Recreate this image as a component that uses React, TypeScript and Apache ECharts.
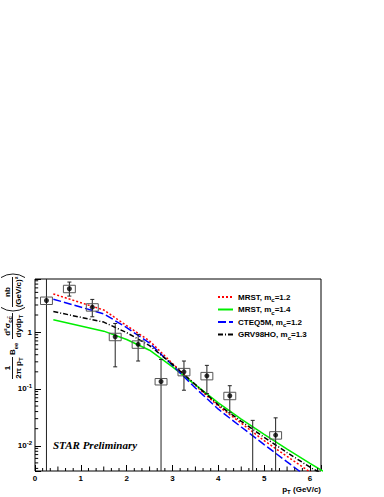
import React, { useEffect, useRef } from 'react';
import * as echarts from 'echarts';

// ---- data points (STAR preliminary) ----
const ptPoints = [0.25, 0.75, 1.25, 1.75, 2.25, 2.75, 3.25, 3.75, 4.25, 4.75, 5.25];
const yieldPoints = [3.6, 5.8, 2.75, 0.83, 0.61, 0.135, 0.2, 0.17, 0.076, 0.001, 0.0154];
const statLow = [0, 4.3, 1.86, 0.245, 0.31, 0, 0.095, 0.083, 0.038, 0, 0];
const statHigh = [9.5, 7.6, 3.76, 1.42, 0.91, 0.33, 0.31, 0.26, 0.114, 0.028, 0.031];
const sysRel = [0.15, 0.15, 0.15, 0.15, 0.15, 0.13, 0.15, 0.15, 0.15, 0.15, 0.15];

// ---- theory curves ----
const theoryPt = [0.4, 1.5, 2.0, 2.5, 3.0, 3.5, 4.0, 4.5, 5.0, 5.5, 6.0, 6.5];
const mrst12 = [4.7, 2.45, 1.3, 0.7, 0.28, 0.115, 0.05, 0.025, 0.0123, 0.0065, 0.00347, 0.002];
const mrst14 = [1.65, 1.04, 0.74, 0.48, 0.245, 0.118, 0.057, 0.0295, 0.0158, 0.0087, 0.0049, 0.0028];
const cteq5m = [3.8, 2.1, 1.2, 0.64, 0.26, 0.104, 0.044, 0.0214, 0.0105, 0.0052, 0.0026, 0.0014];
const grv98ho = [2.3, 1.5, 0.98, 0.58, 0.27, 0.12, 0.0525, 0.027, 0.0141, 0.0076, 0.0042, 0.0025];

const seriesNames = ['MRST, mc=1.2', 'MRST, mc=1.4', 'CTEQ5M, mc=1.2', 'GRV98HO, mc=1.3'];
const legendLabels: Record<string, string> = {
  'MRST, mc=1.2': '{n|MRST, m}{s|c}{n|=1.2}',
  'MRST, mc=1.4': '{n|MRST, m}{s|c}{n|=1.4}',
  'CTEQ5M, mc=1.2': '{n|CTEQ5M, m}{s|c}{n|=1.2}',
  'GRV98HO, mc=1.3': '{n|GRV98HO, m}{s|c}{n|=1.3}',
};

// axis settings
const X_MIN = 0;
const X_MAX = 6.24;
const Y_MIN = 0.0036;
const Y_MAX = 8.6;
const BOX_HW = 0.13;

const FONT = 'Liberation Sans, Arial, Helvetica, sans-serif';

const richN = { fontSize: 8, fontWeight: 'bold', fontFamily: FONT, color: '#000', lineHeight: 12 };
const richS = { fontSize: 6, fontWeight: 'bold', fontFamily: FONT, color: '#000', lineHeight: 6, verticalAlign: 'bottom' };
const richSup = { fontSize: 6, fontWeight: 'bold', fontFamily: FONT, color: '#000', lineHeight: 6, verticalAlign: 'top' };

function buildMinorTicks() {
  const items: number[][] = [];
  for (let k = 1; k < 6 * 7; k++) {
    const v = k / 6;
    if (v >= X_MAX) break;
    if (k % 6 === 0) continue;
    items.push([v, Y_MIN, 0, k % 3 === 0 ? 4.5 : 3]);
  }
  for (let e = -3; e <= 0; e++) {
    for (let m = 2; m <= 9; m++) {
      const v = m * Math.pow(10, e);
      if (v > Y_MIN && v < Y_MAX) items.push([X_MIN, v, 1, 3.2]);
    }
  }
  return items;
}

export default function App() {
  const ref = useRef<HTMLDivElement>(null);
  useEffect(() => {
    if (!ref.current) return;
    const chart = echarts.init(ref.current, undefined, { renderer: 'svg' });

    const curve = (ys: number[]) => theoryPt.map((x, i) => [x, ys[i]]);
    const errData = ptPoints.map((x, i) => [x, yieldPoints[i], statLow[i], statHigh[i], sysRel[i]]);

    const lineSeries = (name: string, ys: number[], color: string, type: any) => ({
      name,
      type: 'line',
      data: curve(ys),
      symbol: 'none',
      showSymbol: false,
      clip: true,
      lineStyle: { color, width: 1.5, type },
      itemStyle: { color },
      z: 3,
    });

    const yTitleN = { fontSize: 8, fontWeight: 'bold', fontFamily: FONT, color: '#000', lineHeight: 12 };
    const yTitleS = { fontSize: 6, fontWeight: 'bold', fontFamily: FONT, color: '#000', lineHeight: 6, verticalAlign: 'bottom' };
    const tt = (text: string, x: number, y: number, align = 'center') => ({
      type: 'text',
      x,
      y,
      style: { text, align, verticalAlign: 'middle', rich: { n: yTitleN, s: yTitleS } },
    });
    const bar = (x1: number, x2: number, y: number) => ({
      type: 'line',
      shape: { x1, y1: y, x2, y2: y },
      style: { stroke: '#000', lineWidth: 0.9 },
    });
    const numY = 7;
    const barY = 12.5;
    const denY = 18;
    const parenR = 22;
    const parenA = Math.asin(12 / parenR);

    const option: any = {
      animation: false,
      backgroundColor: '#fff',
      grid: {
        left: 35,
        top: 279,
        width: 286,
        height: 192,
        show: true,
        borderColor: '#000',
        borderWidth: 1,
        backgroundColor: 'transparent',
      },
      xAxis: {
        type: 'value',
        min: X_MIN,
        max: X_MAX,
        interval: 1,
        axisLine: { show: false },
        splitLine: { show: false },
        axisTick: { inside: true, length: 6, lineStyle: { color: '#000' } },
        axisLabel: {
          margin: 3,
          color: '#000',
          fontSize: 8,
          fontWeight: 'bold',
          fontFamily: FONT,
          formatter: (v: number) => (Math.abs(v - Math.round(v)) < 1e-6 ? String(Math.round(v)) : ''),
        },
      },
      yAxis: {
        type: 'log',
        logBase: 10,
        min: Y_MIN,
        max: Y_MAX,
        axisLine: { show: false },
        splitLine: { show: false },
        axisTick: { inside: true, length: 6, lineStyle: { color: '#000' } },
        axisLabel: {
          margin: 3,
          formatter: (v: number) => {
            const l = Math.log10(v);
            const r = Math.round(l);
            if (Math.abs(l - r) > 1e-6) return '';
            if (r === 0) return '{b|1}';
            return `{b|10}{e|${r}}`;
          },
          rich: { b: richN, e: richSup },
        },
      },
      legend: {
        data: seriesNames,
        orient: 'vertical',
        left: 217,
        top: 293,
        padding: 0,
        itemWidth: 15,
        itemHeight: 10,
        itemGap: 2.5,
        itemStyle: { opacity: 0 },
        formatter: (name: string) => legendLabels[name] || name,
        textStyle: { padding: [0, 0, 0, 0], rich: { n: richN, s: richS } },
        selectedMode: false,
      },
      graphic: [
        {
          type: 'text',
          left: 53,
          top: 439,
          style: {
            text: 'STAR Preliminary',
            fontFamily: 'Liberation Serif, Times New Roman, serif',
            fontStyle: 'italic',
            fontWeight: 'bold',
            fontSize: 11,
            fill: '#000',
          },
        },
        {
          type: 'text',
          x: 321,
          y: 489,
          style: {
            text: '{n|p}{s|T}{n| (GeV/c)}',
            align: 'right',
            verticalAlign: 'middle',
            rich: { n: richN, s: richS },
          },
        },
        {
          type: 'group',
          x: 0,
          y: 390,
          rotation: Math.PI / 2,
          children: [
            tt('{n|1}', 22, numY),
            bar(11, 33, barY),
            tt('{n|2π p}{s|T}', 22, denY),
            tt('{n|B}{s|ee}', 35, barY, 'left'),
            tt('{n|d²σ}{s|cc̄}', 64, numY),
            bar(51, 77, barY),
            tt('{n|dydp}{s|T}', 64, denY),
            {
              type: 'arc',
              shape: { cx: 79 + parenR, cy: 13, r: parenR, startAngle: Math.PI - parenA, endAngle: Math.PI + parenA },
              style: { stroke: '#000', lineWidth: 0.9, fill: 'none' },
            },
            tt('{n|nb}', 98, numY),
            bar(83, 113, barY),
            tt('{n|(GeV/c)²}', 98, denY),
            {
              type: 'arc',
              shape: { cx: 116 - parenR, cy: 13, r: parenR, startAngle: -parenA, endAngle: parenA },
              style: { stroke: '#000', lineWidth: 0.9, fill: 'none' },
            },
          ],
        },
      ],
      series: [
        lineSeries(seriesNames[0], mrst12, '#ff0000', [2, 2]),
        lineSeries(seriesNames[1], mrst14, '#00ee00', 'solid'),
        lineSeries(seriesNames[2], cteq5m, '#0000ff', [8, 3]),
        lineSeries(seriesNames[3], grv98ho, '#000000', [5, 2, 1, 2]),
        {
          name: 'errors',
          type: 'custom',
          clip: true,
          z: 4,
          encode: { x: 0, y: 1 },
          data: errData,
          renderItem: (params: any, api: any) => {
            const x = api.value(0);
            const y = api.value(1);
            const lo = api.value(2);
            const hi = api.value(3);
            const sr = api.value(4);
            const loClamp = lo <= Y_MIN;
            const hiClamp = hi >= Y_MAX;
            const top = api.coord([x, hiClamp ? Y_MAX : hi]);
            const bot = api.coord([x, loClamp ? Y_MIN : lo]);
            const children: any[] = [
              {
                type: 'line',
                shape: { x1: top[0], y1: top[1], x2: bot[0], y2: bot[1] },
                style: { stroke: '#222', lineWidth: 1 },
              },
            ];
            if (!hiClamp)
              children.push({
                type: 'line',
                shape: { x1: top[0] - 2, y1: top[1], x2: top[0] + 2, y2: top[1] },
                style: { stroke: '#222', lineWidth: 1 },
              });
            if (!loClamp)
              children.push({
                type: 'line',
                shape: { x1: bot[0] - 2, y1: bot[1], x2: bot[0] + 2, y2: bot[1] },
                style: { stroke: '#222', lineWidth: 1 },
              });
            if (y > Y_MIN) {
              const a = api.coord([x - BOX_HW, y * (1 + sr)]);
              const b = api.coord([x + BOX_HW, y * (1 - sr)]);
              children.push({
                type: 'rect',
                shape: { x: a[0], y: a[1], width: b[0] - a[0], height: b[1] - a[1] },
                style: { stroke: '#555', lineWidth: 1, fill: 'none' },
              });
            }
            return { type: 'group', children };
          },
        },
        {
          name: 'points',
          type: 'scatter',
          data: ptPoints.map((x, i) => [x, yieldPoints[i]]),
          symbol: 'circle',
          symbolSize: 5,
          itemStyle: { color: '#000' },
          clip: true,
          z: 5,
        },
        {
          name: 'minorTicks',
          type: 'custom',
          clip: false,
          silent: true,
          z: 6,
          encode: { x: 0, y: 1 },
          data: buildMinorTicks(),
          renderItem: (params: any, api: any) => {
            const p = api.coord([api.value(0), api.value(1)]);
            const isY = api.value(2) === 1;
            const len = api.value(3);
            return {
              type: 'line',
              shape: isY
                ? { x1: p[0], y1: p[1], x2: p[0] + len, y2: p[1] }
                : { x1: p[0], y1: p[1], x2: p[0], y2: p[1] - len },
              style: { stroke: '#000', lineWidth: 1 },
            };
          },
        },
      ],
    };
    chart.setOption(option);
    return () => chart.dispose();
  }, []);
  return (
    <div
      ref={ref}
      style={{ position: 'fixed', left: 0, top: 0, width: 384, height: 497, background: '#fff' }}
    />
  );
}
